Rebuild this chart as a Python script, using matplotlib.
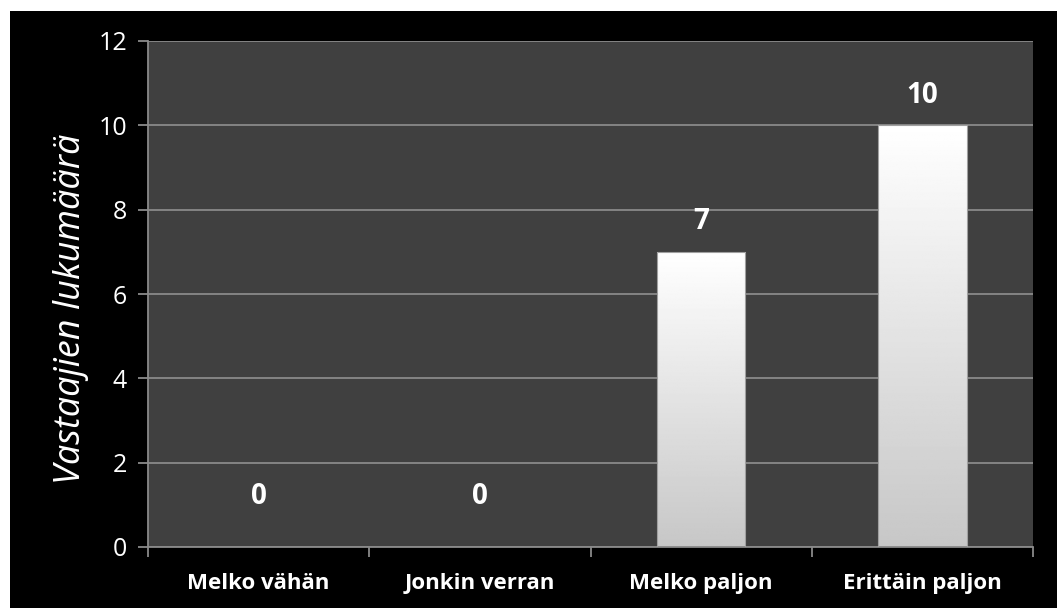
import numpy as np
import matplotlib.pyplot as plt
from matplotlib.patches import Rectangle

# data
categories = ['Melko vähän', 'Jonkin verran', 'Melko paljon', 'Erittäin paljon']
counts = [0, 0, 7, 10]
y_ticks = [0, 2, 4, 6, 8, 10, 12]
y_label = 'Vastaajien lukumäärä'

plt.rcParams['font.family'] = ['Open Sans', 'DejaVu Sans']

fig = plt.figure(figsize=(10.57, 6.08), dpi=100, facecolor='white')
# black chart area (white margin top/left)
fig.patches.append(Rectangle((10 / 1057, 0), 1, 597 / 608, transform=fig.transFigure,
                             facecolor='black', edgecolor='none', zorder=-10))

ax = fig.add_axes([148 / 1057, 1 - 547 / 608, (1033 - 148) / 1057, (547 - 41) / 608])
ax.set_facecolor('#404040')

x = np.arange(len(categories))
width = 0.40
bars = ax.bar(x, counts, width, color='none', edgecolor='#a0a0a0', linewidth=0.8, zorder=3)

# vertical gradient: white at top, light grey at bottom
grad = np.linspace(0.78, 1.0, 256).reshape(-1, 1)
for b in bars:
    h = b.get_height()
    if h <= 0:
        continue
    x0 = b.get_x()
    im = ax.imshow(grad, extent=(x0, x0 + b.get_width(), 0, h), origin='lower',
                   cmap='gray', vmin=0, vmax=1, aspect='auto', zorder=2)
    im.set_clip_path(b)

# value labels
for xi, v in zip(x, counts):
    off = 30 if v > 0 else 51
    ax.annotate(str(v), (xi, v), xytext=(0, off), textcoords='offset pixels',
                ha='center', va='center', color='white', fontsize=20, fontweight='bold')

ax.set_xlim(-0.5, len(categories) - 0.5)
ax.set_ylim(0, 12)
ax.set_yticks(y_ticks)
ax.yaxis.grid(True, color='#8a8a8a', linewidth=1.3, zorder=1)
ax.set_axisbelow(True)

ax.set_xticks(x)
ax.set_xticklabels(categories, fontsize=16, fontweight='bold', color='white')
ax.set_xticks(np.arange(-0.5, len(categories)), minor=True)
ax.tick_params(axis='x', which='major', length=0, pad=19)
ax.tick_params(axis='x', which='minor', length=7, color='#8a8a8a', width=1.3)
ax.tick_params(axis='y', length=7, color='#8a8a8a', width=1.3, labelcolor='white',
               labelsize=18, pad=8)

for s in ['top', 'right']:
    ax.spines[s].set_visible(False)
for s in ['left', 'bottom']:
    ax.spines[s].set_color('#8a8a8a')
    ax.spines[s].set_linewidth(1.3)

ax.set_ylabel(y_label, fontsize=26, style='italic', color='white')
ax.yaxis.set_label_coords(-0.067, 0.47)

fig.savefig('out.png', dpi=100, facecolor='white')
